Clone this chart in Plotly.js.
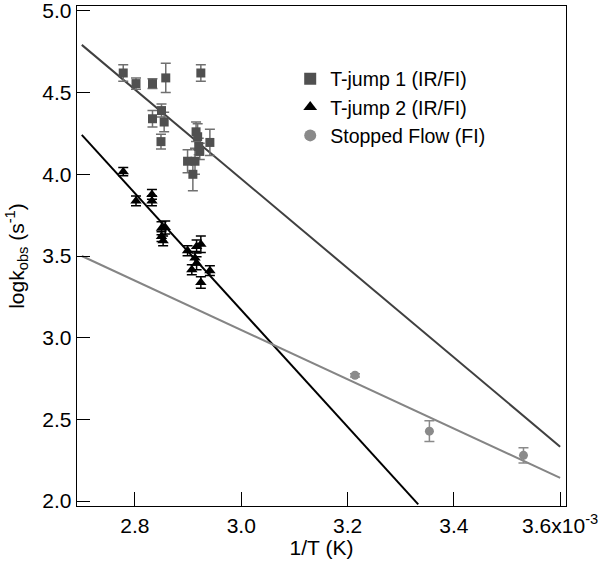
<!DOCTYPE html>
<html>
<head>
<meta charset="utf-8">
<script src="https://cdn.plot.ly/plotly-3.0.1.min.js"></script>
<style>
  html, body { margin: 0; padding: 0; background: #ffffff; }
  #chart { width: 600px; height: 565px; }
</style>
</head>
<body>
<div id="chart"></div>
<script>
  // 1/T in units of 1e-3 K^-1, log k_obs, and the +/- error of each point.
  var tjump1X = [2.778, 2.802, 2.833, 2.858, 2.924, 2.833, 2.850, 2.855, 2.849, 2.915, 2.918, 2.941, 2.922, 2.899, 2.913, 2.909, 2.920];
  var tjump1Y = [4.62, 4.555, 4.555, 4.59, 4.62, 4.34, 4.39, 4.32, 4.20, 4.26, 4.23, 4.195, 4.14, 4.08, 4.08, 4.00, 4.17];
  var tjump1Err = [0.05, 0.035, 0.03, 0.09, 0.05, 0.05, 0.04, 0.06, 0.045, 0.06, 0.08, 0.08, 0.05, 0.07, 0.08, 0.10, 0.05];

  var tjump2X = [2.778, 2.802, 2.832, 2.832, 2.850, 2.857, 2.850, 2.853, 2.899, 2.916, 2.924, 2.913, 2.916, 2.907, 2.941, 2.924];
  var tjump2Y = [4.016, 3.837, 3.877, 3.837, 3.670, 3.674, 3.619, 3.593, 3.532, 3.558, 3.572, 3.487, 3.456, 3.416, 3.410, 3.338];
  var tjump2Err = [0.025, 0.03, 0.03, 0.03, 0.04, 0.04, 0.03, 0.03, 0.03, 0.04, 0.05, 0.04, 0.04, 0.03, 0.03, 0.035];

  var stoppedX = [3.214, 3.354, 3.531];
  var stoppedY = [2.770, 2.428, 2.280];
  var stoppedErr = [0.01, 0.064, 0.047];

  // Arrhenius fit lines, two end points each.
  var fit1X = [2.70, 3.60];
  var fit1Y = [4.792, 2.333];
  var fit2X = [2.70, 3.333];
  var fit2Y = [4.241, 1.98];
  var fit3X = [2.70, 3.60];
  var fit3Y = [3.500, 2.142];

  var tickVals = [2.8, 3.0, 3.2, 3.4, 3.6];
  var tickText = ["2.8", "3.0", "3.2", "3.4", "3.6x10<sup>-3</sup>"];

  var FONT = "Liberation Sans, Arial, Helvetica, sans-serif";

  function fitLine(x, y, color) {
    return {
      type: "scatter", mode: "lines", x: x, y: y,
      line: { color: color, width: 2 },
      showlegend: false, hoverinfo: "skip"
    };
  }

  function points(name, x, y, err, symbol, size, color, errColor) {
    return {
      type: "scatter", mode: "markers", name: name, x: x, y: y,
      marker: { symbol: symbol, size: size, color: color },
      error_y: { type: "data", array: err, visible: true, color: errColor, thickness: 1.5, width: 5 }
    };
  }

  var traces = [
    fitLine(fit1X, fit1Y, "#404040"),
    fitLine(fit2X, fit2Y, "#000000"),
    fitLine(fit3X, fit3Y, "#858585"),
    points("T-jump 1 (IR/FI)", tjump1X, tjump1Y, tjump1Err, "square", 9, "#505050", "#707070"),
    points("T-jump 2 (IR/FI)", tjump2X, tjump2Y, tjump2Err, "triangle-up", 10, "#000000", "#000000"),
    points("Stopped Flow (FI)", stoppedX, stoppedY, stoppedErr, "circle", 9, "#8a8a8a", "#8a8a8a")
  ];

  var layout = {
    width: 600,
    height: 565,
    margin: { l: 77, r: 34, t: 6, b: 59 },
    paper_bgcolor: "#ffffff",
    plot_bgcolor: "#ffffff",
    font: { family: FONT, size: 21, color: "#000000" },
    showlegend: true,
    legend: {
      x: 0.436, y: 0.893, xanchor: "left", yanchor: "top",
      bgcolor: "rgba(0,0,0,0)",
      font: { family: FONT, size: 19.5, color: "#000000" },
      itemsizing: "constant"
    },
    xaxis: {
      range: [2.691, 3.611],
      tickmode: "array",
      tickvals: tickVals,
      ticktext: tickText,
      ticks: "inside",
      ticklen: 14,
      tickwidth: 1,
      tickcolor: "#000000",
      tickfont: { family: FONT, size: 21 },
      showline: true,
      linecolor: "#000000",
      linewidth: 1.3,
      mirror: true,
      showgrid: false,
      zeroline: false,
      title: { text: "1/T (K)", font: { family: FONT, size: 21 }, standoff: 2 }
    },
    yaxis: {
      range: [1.97, 5.03],
      dtick: 0.5,
      tick0: 2,
      tickformat: ".1f",
      ticks: "inside",
      ticklen: 13,
      tickwidth: 1,
      tickcolor: "#000000",
      tickfont: { family: FONT, size: 21 },
      ticklabeloverflow: "allow",
      showline: true,
      linecolor: "#000000",
      linewidth: 1.3,
      mirror: true,
      showgrid: false,
      zeroline: false,
      title: { text: "logk<sub>obs</sub> (s<sup>-1</sup>)", font: { family: FONT, size: 21 }, standoff: 12 }
    }
  };

  Plotly.newPlot("chart", traces, layout, { displayModeBar: false, staticPlot: true });
</script>
</body>
</html>
